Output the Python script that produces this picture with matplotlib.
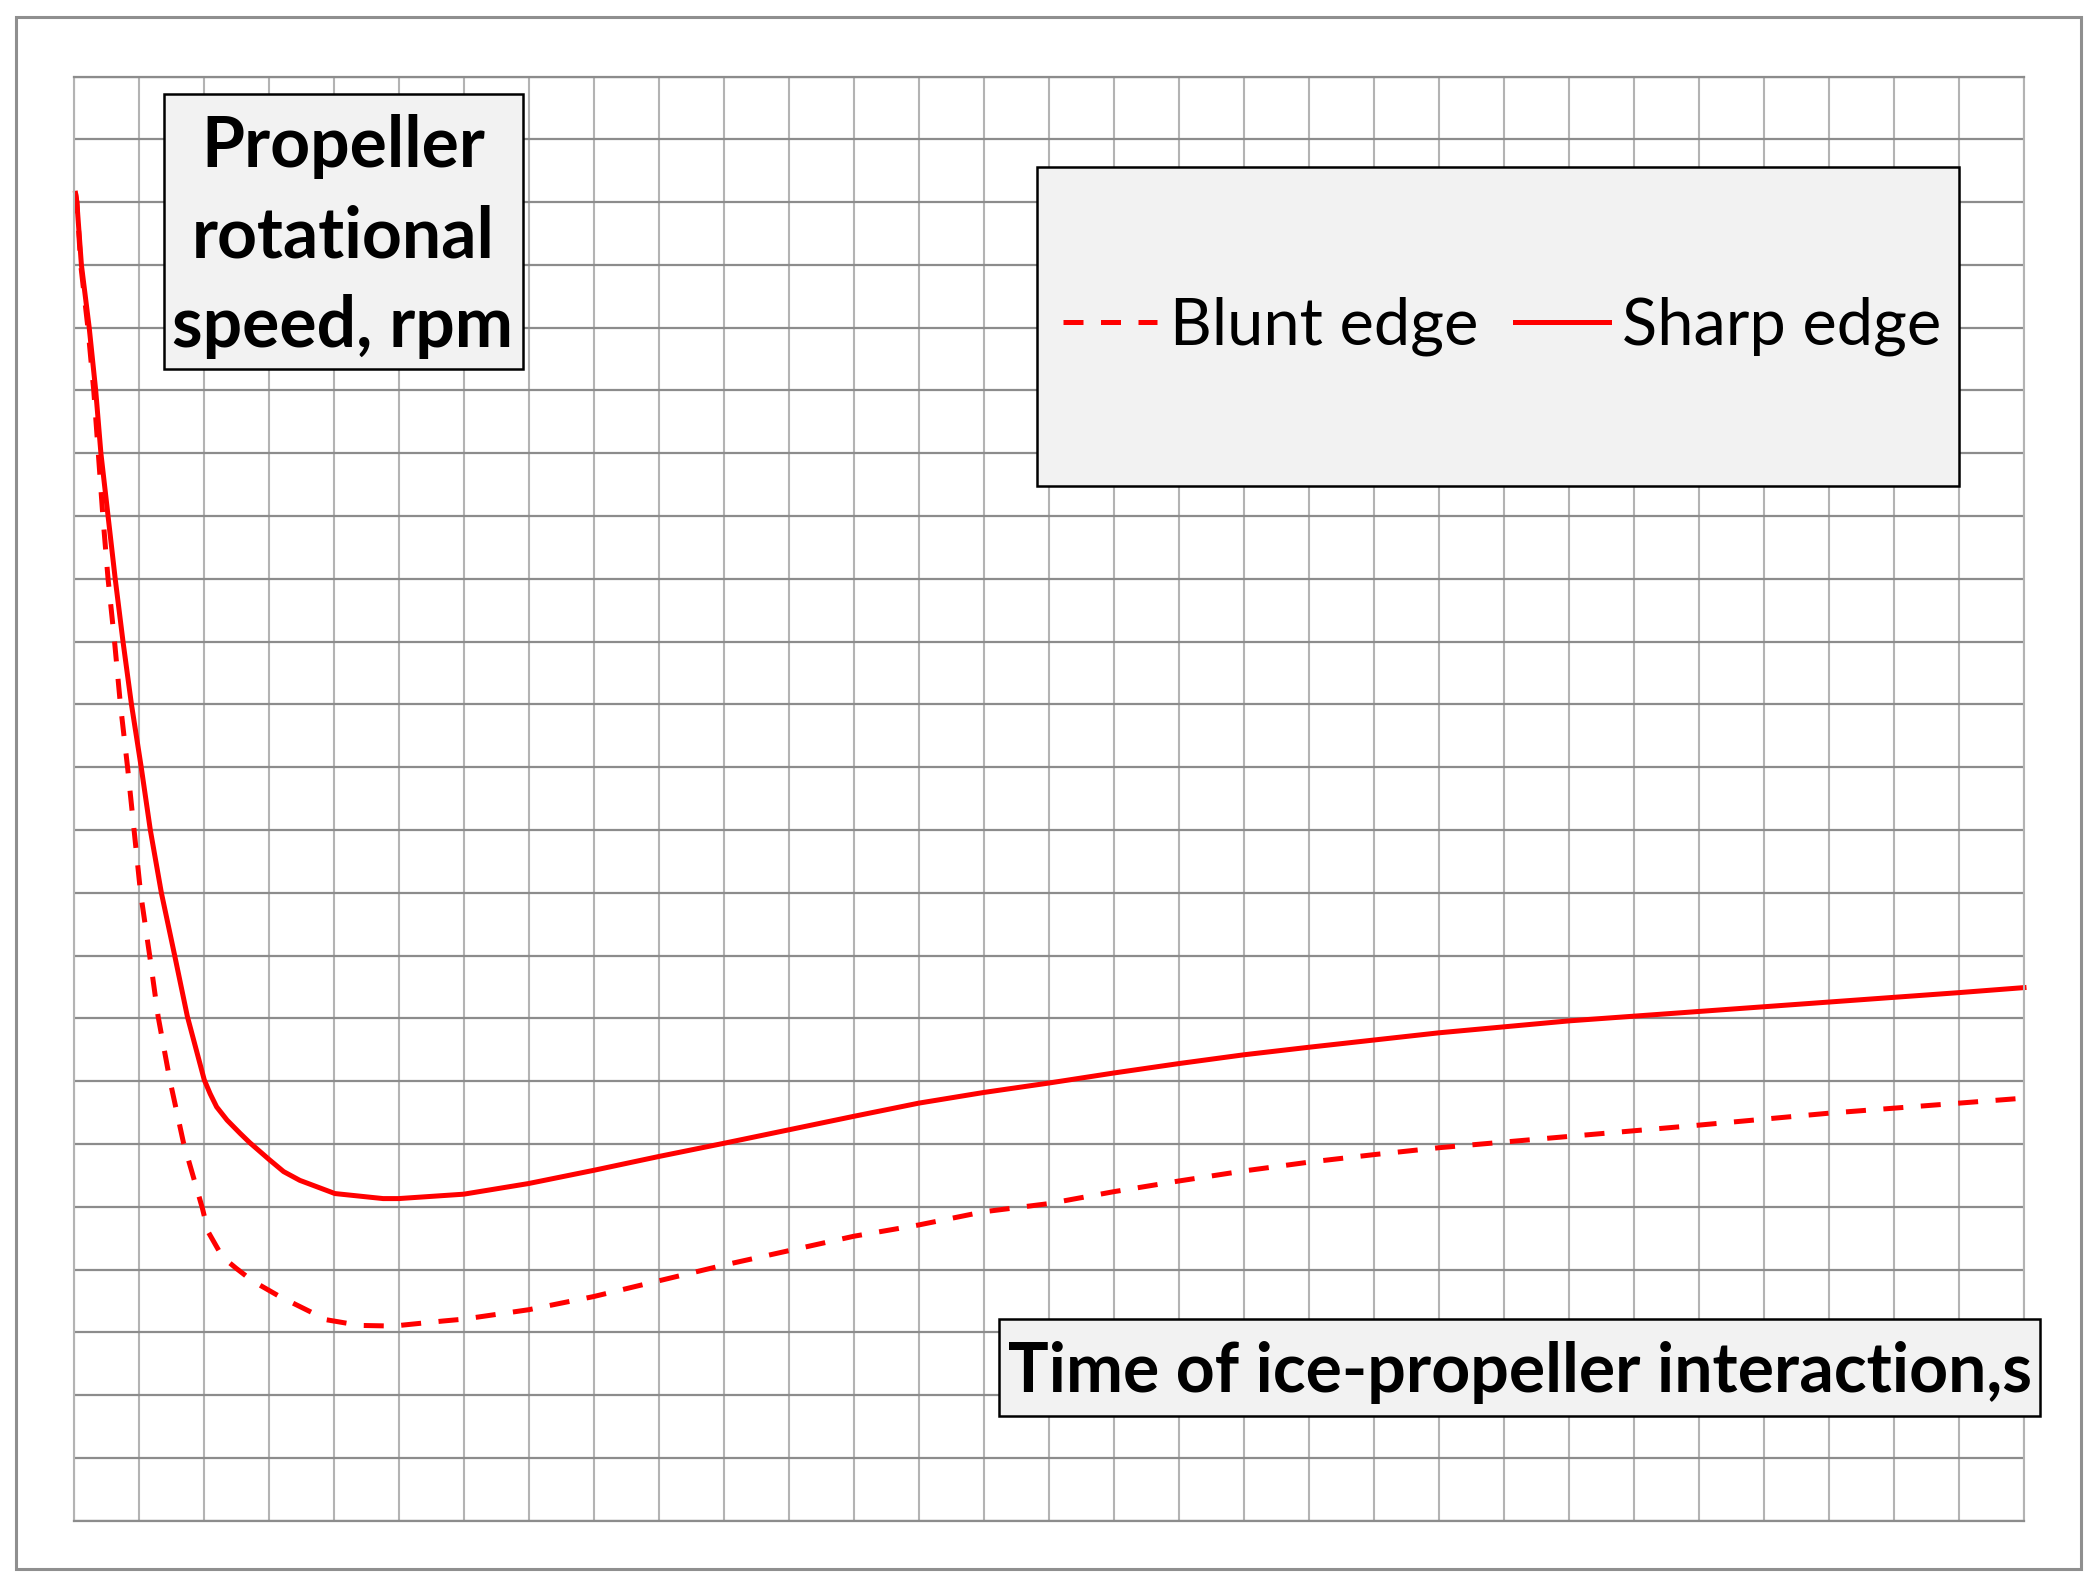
import matplotlib
matplotlib.use("Agg")
import matplotlib.pyplot as plt
from matplotlib.patches import Rectangle

# Chart values, in grid units (no tick labels on the original)
sharp_x = [0.03, 0.05, 0.12, 0.24, 0.34, 0.42, 0.53, 0.64, 0.76, 0.89, 1.04, 1.18, 1.35,
           1.555, 1.75, 2.01, 2.1, 2.2, 2.36, 2.56, 2.71, 3.01, 3.23, 3.48, 4.02, 4.76, 5.0,
           6.0, 7, 8, 9, 10, 12, 13, 14, 15, 16, 17, 18, 19, 21, 23, 25, 27, 29, 30]
sharp_y = [21.14, 21.0, 20.0, 19.0, 18.0, 17.0, 16.0, 15.0, 14.0, 13.0, 12.0, 11.0, 10.0,
           9.0, 8.03, 7.02, 6.8, 6.59, 6.38, 6.17, 6.02, 5.75, 5.56, 5.42, 5.21, 5.13, 5.13,
           5.2, 5.37, 5.58, 5.8, 6.01, 6.44, 6.65, 6.82, 6.97, 7.13, 7.28, 7.42, 7.54, 7.77,
           7.96, 8.11, 8.26, 8.41, 8.49]

blunt_x = [0.03, 0.05, 0.11, 0.22, 0.31, 0.38, 0.45, 0.53, 0.63, 0.72, 0.83, 0.93, 1.03,
           1.17, 1.3, 1.48, 1.69, 1.98, 2.07, 2.29, 2.5, 2.75, 3.17, 3.89, 4.4, 4.92, 5.68, 6,
           7, 8, 10, 12, 13, 14, 15, 16, 17, 18, 19, 20, 21, 23, 25, 27, 29, 30]
blunt_y = [21.14, 21.0, 20.0, 19.0, 18.0, 17.0, 16.0, 15.0, 14.0, 13.0, 12.0, 11.0, 10.0,
           9.0, 8.03, 7.02, 6.02, 4.98, 4.6, 4.2, 4.02, 3.82, 3.57, 3.2, 3.11, 3.1, 3.18, 3.21,
           3.36, 3.57, 4.07, 4.53, 4.71, 4.92, 5.05, 5.24, 5.41, 5.57, 5.71, 5.83, 5.94, 6.12,
           6.3, 6.49, 6.65, 6.73]

x_cells = 30
y_cells = 23

y_label_lines = ["Propeller", "rotational", "speed, rpm"]
x_label = "Time of ice-propeller interaction,s"
series_names = ["Blunt edge", "Sharp edge"]

W, H = 2099, 1590
FONT = "Lato"
RED = "#ff0000"
BOX_FILL = "#f2f2f2"
LW = 3.6  # points, ~5 px at 100 dpi


def fx(px):
    return px / W


def fy(py):
    return 1 - py / H


fig = plt.figure(figsize=(W / 100, H / 100), dpi=100)
renderer = fig.canvas.get_renderer()


def fit_size(s, weight, target_px, base=40):
    t = fig.text(0, 0, s, fontsize=base, family=FONT, weight=weight)
    w = t.get_window_extent(renderer).width
    t.remove()
    return base * target_px / w


# outer frame
fig.add_artist(Rectangle((fx(16), fy(1569)), fx(2081) - fx(16), fy(17) - fy(1569),
                         transform=fig.transFigure, fill=False, edgecolor="#8f8f8f", lw=2.2))

ax = fig.add_axes([fx(73.6), fy(1520.7), fx(2024) - fx(73.6), fy(76.5) - fy(1520.7)])
ax.set_xlim(0, x_cells)
ax.set_ylim(0, y_cells)
ax.set_xticks(range(x_cells + 1))
ax.set_yticks(range(y_cells + 1))
ax.tick_params(length=0, labelbottom=False, labelleft=False)
ax.xaxis.grid(True, color="#b3b3b3", lw=1.5)
ax.yaxis.grid(True, color="#8c8c8c", lw=1.6)
ax.set_axisbelow(True)
for side in ("left", "right"):
    ax.spines[side].set_color("#b3b3b3")
    ax.spines[side].set_linewidth(1.5)
for side in ("top", "bottom"):
    ax.spines[side].set_color("#8c8c8c")
    ax.spines[side].set_linewidth(1.6)

blunt, = ax.plot(blunt_x, blunt_y, color=RED, lw=LW, dashes=(4.0, 3.5),
                 label=series_names[0], clip_on=False)
sharp, = ax.plot(sharp_x, sharp_y, color=RED, lw=LW, label=series_names[1],
                 clip_on=False, solid_joinstyle="round")

# y label box
fig.add_artist(Rectangle((fx(163.5), fy(369)), fx(523) - fx(163.5), fy(93.5) - fy(369),
                         transform=fig.transFigure, facecolor=BOX_FILL, edgecolor="black", lw=1.8))
ysize = fit_size(y_label_lines[2], "bold", 341)
for line, base in zip(y_label_lines, [167, 257, 347]):
    fig.text(fx(343), fy(base), line, ha="center", va="baseline", fontsize=ysize,
             family=FONT, weight="bold", zorder=3)

# x label box
fig.add_artist(Rectangle((fx(998.6), fy(1416)), fx(2040) - fx(998.6), fy(1318.5) - fy(1416),
                         transform=fig.transFigure, facecolor=BOX_FILL, edgecolor="black", lw=1.8))
xsize = fit_size(x_label, "bold", 1025)
fig.text(fx(1519.5), fy(1392), x_label, ha="center", va="baseline", fontsize=xsize,
         family=FONT, weight="bold", zorder=3)

# legend box with a frameless legend centred in it
fig.add_artist(Rectangle((fx(1037), fy(486)), fx(1959) - fx(1037), fy(167) - fy(486),
                         transform=fig.transFigure, facecolor=BOX_FILL, edgecolor="black", lw=1.8,
                         zorder=2))
lsize = fit_size(series_names[0], "normal", 308)
lpx = lsize * 100 / 72
fig.legend(handles=[blunt, sharp], ncol=2, loc="center",
           bbox_to_anchor=(fx(1502), fy(326)), bbox_transform=fig.transFigure,
           frameon=False, prop={"family": FONT, "size": lsize},
           handlelength=94 / lpx, handletextpad=13 / lpx, columnspacing=36 / lpx,
           borderpad=0, borderaxespad=0)

fig.savefig("out.png", dpi=100, facecolor="white")
